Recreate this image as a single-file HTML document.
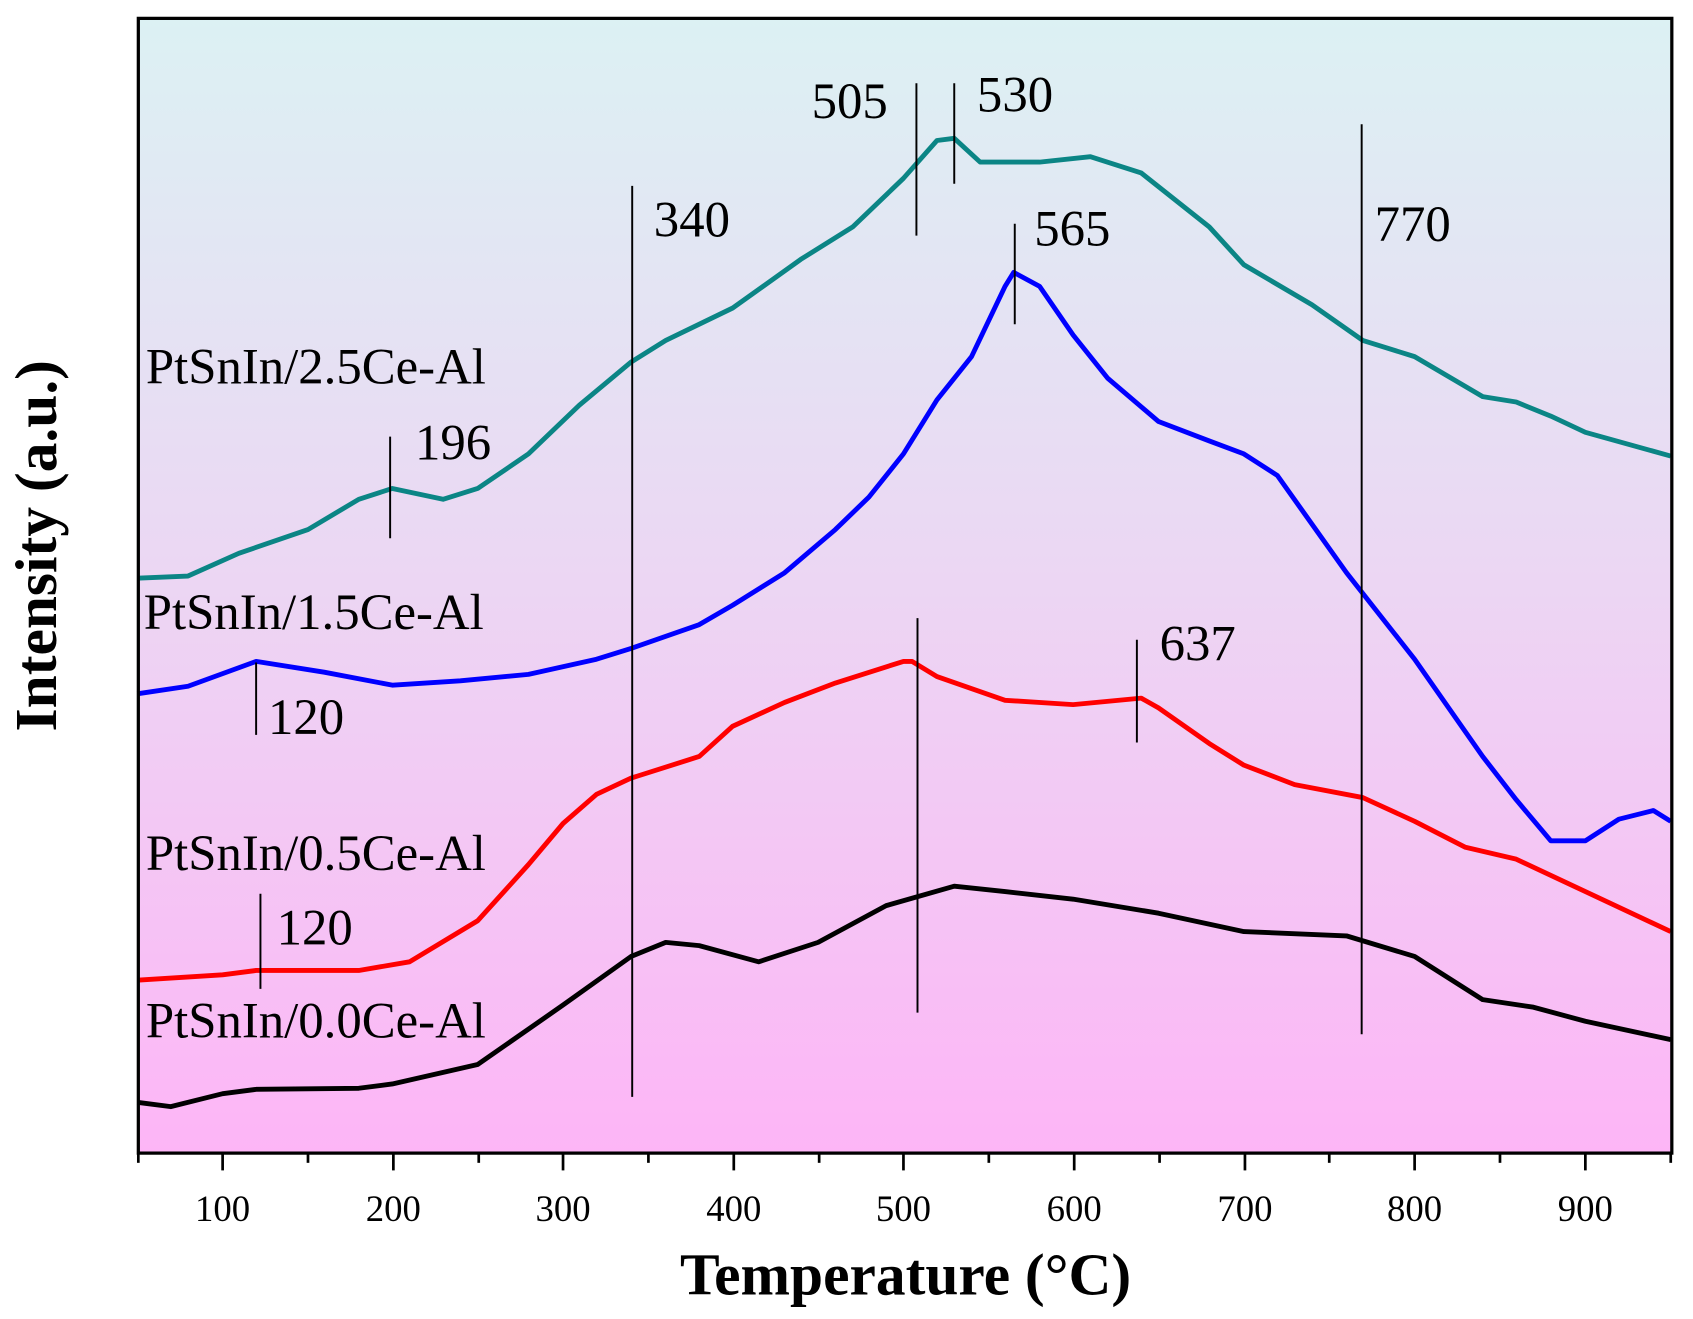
<!DOCTYPE html>
<html><head><meta charset="utf-8"><style>html,body{margin:0;padding:0;background:#fff}svg{display:block}</style></head>
<body>
<svg width="1693" height="1319" viewBox="0 0 1566.6 1220.5" preserveAspectRatio="none" xmlns="http://www.w3.org/2000/svg" font-family="Liberation Serif, serif">
<defs><linearGradient id="bg" x1="0" y1="0" x2="0" y2="1"><stop offset="0" stop-color="#dcf1f3"/><stop offset="0.5" stop-color="#ecd6f3"/><stop offset="1" stop-color="#fdb5f6"/></linearGradient></defs>
<rect x="128" y="17" width="1419" height="1050" fill="url(#bg)"/>
<g fill="none" stroke-width="4.5" stroke-linejoin="round">
<polyline stroke="#000" points="127,1020 158,1024 206,1012 237,1008 332,1007 363,1003 442,985 521,930 584,885 616,872 647,875 702,890 757,872 820,838 883,820 930,825 993,832 1072,845 1151,862 1246,866 1309,885 1372,925 1419,932 1467,945 1546,962"/>
<polyline stroke="#f00" points="127,907 206,902 237,898 332,898 379,890 442,852 489,800 521,762 552,735 584,720 647,700 678,672 726,650 773,632 836,612 844,612 867,626 930,648 993,652 1056,646 1072,655 1119,688 1151,708 1198,726 1261,738 1309,760 1356,784 1403,795 1467,825 1546,862"/>
<polyline stroke="#00f" points="127,642 174,635 237,612 300,622 363,634 426,630 489,624 552,610 584,600 647,578 678,560 726,530 773,490 804,460 836,420 867,370 899,330 930,265 938,252 962,265 993,310 1025,350 1072,390 1119,408 1151,420 1182,440 1246,530 1309,610 1372,700 1403,740 1435,778 1467,778 1498,758 1530,750 1546,760"/>
<polyline stroke="#0b8585" points="127,535 174,533 221,512 285,490 332,462 363,452 410,462 442,452 489,420 536,375 584,335 616,315 678,285 741,240 789,210 836,165 867,130 883,128 907,150 962,150 1009,145 1056,160 1119,210 1151,245 1214,282 1261,315 1309,330 1372,367 1403,372 1435,385 1467,400 1546,422"/>
</g>
<g stroke="#000" stroke-width="1.8">
<line x1="585" y1="172" x2="585" y2="1015"/>
<line x1="848" y1="77" x2="848" y2="218"/>
<line x1="849" y1="572" x2="849" y2="937"/>
<line x1="883" y1="77" x2="883" y2="170"/>
<line x1="939" y1="207" x2="939" y2="300"/>
<line x1="1052" y1="592" x2="1052" y2="687"/>
<line x1="1260" y1="115" x2="1260" y2="957"/>
<line x1="361" y1="404" x2="361" y2="498"/>
<line x1="237" y1="613" x2="237" y2="680"/>
<line x1="241" y1="827" x2="241" y2="915"/>
</g>
<rect x="128" y="17" width="1419" height="1050" fill="none" stroke="#000" stroke-width="3"/>
<g stroke="#000" stroke-width="2.5">
<line x1="206" y1="1067" x2="206" y2="1083"/><line x1="364" y1="1067" x2="364" y2="1083"/><line x1="521" y1="1067" x2="521" y2="1083"/><line x1="679" y1="1067" x2="679" y2="1083"/><line x1="836" y1="1067" x2="836" y2="1083"/><line x1="994" y1="1067" x2="994" y2="1083"/><line x1="1152" y1="1067" x2="1152" y2="1083"/><line x1="1309" y1="1067" x2="1309" y2="1083"/><line x1="1467" y1="1067" x2="1467" y2="1083"/>
<line x1="285" y1="1067" x2="285" y2="1076"/><line x1="443" y1="1067" x2="443" y2="1076"/><line x1="600" y1="1067" x2="600" y2="1076"/><line x1="758" y1="1067" x2="758" y2="1076"/><line x1="915" y1="1067" x2="915" y2="1076"/><line x1="1073" y1="1067" x2="1073" y2="1076"/><line x1="1230" y1="1067" x2="1230" y2="1076"/><line x1="1388" y1="1067" x2="1388" y2="1076"/><line x1="128" y1="1067" x2="128" y2="1076"/><line x1="1546" y1="1067" x2="1546" y2="1076"/>
</g>
<g font-size="34" text-anchor="middle">
<text x="206" y="1130">100</text><text x="364" y="1130">200</text><text x="521" y="1130">300</text><text x="679" y="1130">400</text><text x="836" y="1130">500</text><text x="994" y="1130">600</text><text x="1152" y="1130">700</text><text x="1309" y="1130">800</text><text x="1467" y="1130">900</text>
</g>
<text x="838" y="1198" font-size="55" font-weight="bold" text-anchor="middle">Temperature (°C)</text>
<text transform="translate(52,505) rotate(-90)" font-size="55" font-weight="bold" text-anchor="middle">Intensity (a.u.)</text>
<g font-size="47">
<text x="135" y="355">PtSnIn/2.5Ce-Al</text>
<text x="133" y="582">PtSnIn/1.5Ce-Al</text>
<text x="135" y="805">PtSnIn/0.5Ce-Al</text>
<text x="135" y="960">PtSnIn/0.0Ce-Al</text>
<text x="751" y="109">505</text>
<text x="904" y="103">530</text>
<text x="605" y="219">340</text>
<text x="957" y="227">565</text>
<text x="1272" y="223">770</text>
<text x="1073" y="611">637</text>
<text x="384" y="425">196</text>
<text x="248" y="679">120</text>
<text x="256" y="874">120</text>
</g>
</svg>
</body></html>
